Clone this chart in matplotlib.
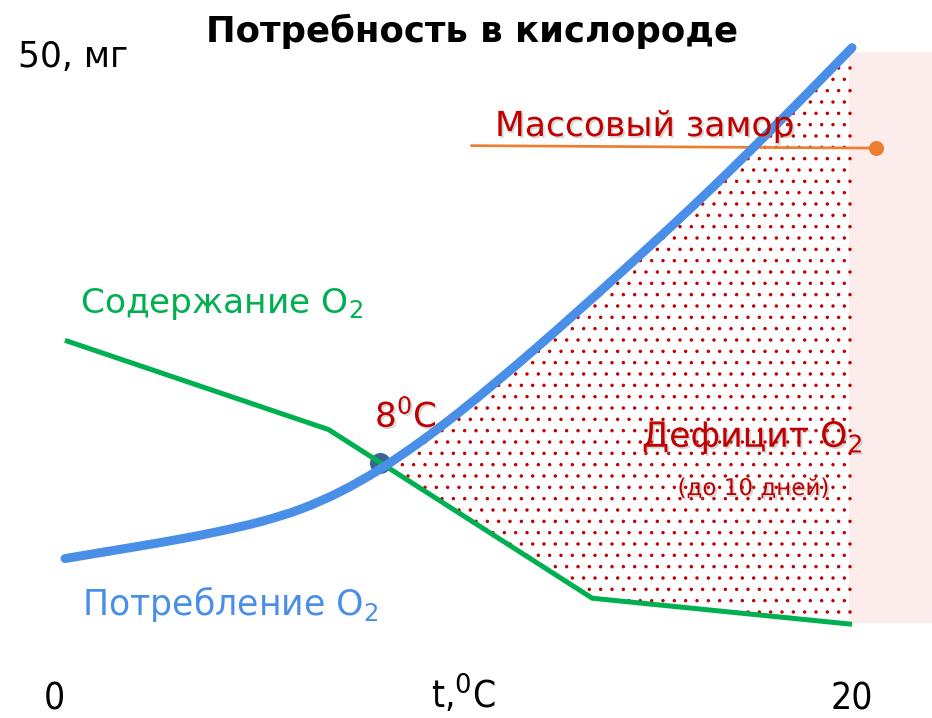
import numpy as np
import matplotlib
matplotlib.use("Agg")
import matplotlib.pyplot as plt
import matplotlib.patheffects as pe
from matplotlib.patches import Rectangle, PathPatch
from matplotlib.path import Path

# ---------------- data ----------------
temps_consumption = [0, 1, 2, 3, 4, 5, 6, 7, 8, 9, 10, 11, 12, 13, 14, 15, 16, 17, 18, 19, 20]
consumption_o2 = [10.6, 11.13, 11.66, 12.22, 12.85, 13.6, 14.6, 16.0, 17.8, 19.95, 22.35,
                  24.95, 27.65, 30.45, 33.3, 36.2, 39.15, 42.2, 45.35, 48.55, 51.8]

temps_content = [0, 6.7, 13.4, 20]
content_o2 = [28.2, 21.0, 7.4, 5.3]

crossing_temp = 8
crossing_value = 18.3

kill_line_temps = [10.3, 20.6]
kill_line_values = [43.9, 43.7]

x_ticks = [0, 20]
x_tick_labels = ["0", "20"]

# ---------------- style ----------------
DPI = 136
W, H = 932, 718
PT = 72.0 / DPI  # pixels -> points

GREEN = "#00B050"
BLUE = "#4A8FE7"
DARKRED = "#C00000"
ORANGE = "#ED7D31"
PINK = "#FDECEC"
DOT = "#3B6396"

plt.rcParams["font.family"] = ["DejaVu Sans"]
plt.rcParams["mathtext.fontset"] = "dejavusans"
plt.rcParams["hatch.linewidth"] = 0.6

fig = plt.figure(figsize=(W / DPI, H / DPI), dpi=DPI)
ax = fig.add_axes([0, 0, 1, 1])
ax.set_axis_off()

# data <-> layout scale (0 degC at px 65, 20 degC at px 852; 0 mg at py 690, 50 mg at py 70)
XPX = (852 - 65) / 20.0
YPX = (690 - 70) / 50.0
ax.set_xlim(-65 / XPX, (W - 65) / XPX)
ax.set_ylim(-(H - 690) / YPX, 690 / YPX)


def fx(px):
    return px / W


def fy(py):
    return 1 - py / H


def smooth_path(xs, ys):
    """Smoothed line through the data points (Catmull-Rom as cubic Bezier)."""
    p = np.column_stack([xs, ys]).astype(float)
    ext = np.vstack([p[0], p, p[-1]])
    verts = [p[0]]
    codes = [Path.MOVETO]
    for i in range(len(p) - 1):
        p0, p1, p2, p3 = ext[i], ext[i + 1], ext[i + 2], ext[i + 3]
        verts += [p1 + (p2 - p0) / 6.0, p2 - (p3 - p1) / 6.0, p2]
        codes += [Path.CURVE4] * 3
    return Path(verts, codes)


# pink "deficit zone" band beyond 20 degC
ax.add_patch(Rectangle((19.92, 5.43), 5.0, 51.45 - 5.43, facecolor=PINK,
                       edgecolor="none", zorder=0))

# dotted deficit area between consumption and content curves (t >= crossing)
tb = np.array(temps_consumption, dtype=float)
vb = np.array(consumption_o2, dtype=float)
tg = np.array(temps_content, dtype=float)
vg = np.array(content_o2, dtype=float)
mb = tb > crossing_temp
mg = tg > crossing_temp
poly_x = np.concatenate([[crossing_temp], tb[mb], tg[mg][::-1]])
poly_y = np.concatenate([[crossing_value], vb[mb], vg[mg][::-1]])
ax.fill(poly_x, poly_y, facecolor="none", edgecolor=DARKRED, linewidth=0,
        hatch="..", zorder=1)

# crossing point marker
ax.plot([crossing_temp], [crossing_value], "o", color=DOT, markersize=21 * PT,
        markeredgewidth=0, zorder=2)

# O2 content (green)
ax.plot(temps_content, content_o2, color=GREEN, linewidth=5 * PT,
        solid_capstyle="butt", solid_joinstyle="miter", zorder=3)

# O2 consumption (blue, smoothed line)
blue_patch = PathPatch(smooth_path(temps_consumption, consumption_o2),
                       facecolor="none", edgecolor=BLUE, linewidth=9 * PT,
                       capstyle="round", joinstyle="round", zorder=4)
ax.add_patch(blue_patch)

# mass kill threshold line (orange)
ax.plot(kill_line_temps, kill_line_values, color=ORANGE, linewidth=2.7 * PT,
        solid_capstyle="butt", zorder=3)
ax.plot([kill_line_temps[-1]], [kill_line_values[-1]], "o", color=ORANGE,
        markersize=15 * PT, markeredgewidth=0, zorder=5)

# ---------------- texts ----------------
shadow = [pe.withSimplePatchShadow(offset=(1.0, -1.0), shadow_rgbFace="#8A8A8A",
                                   alpha=0.35)]

ax.text(fx(472.5), fy(42), "Потребность в кислороде", transform=ax.transAxes,
        ha="center", va="baseline", fontsize=35.5 * PT, fontweight="bold",
        color="black", zorder=6)
ax.text(fx(18), fy(67), "50, мг", transform=ax.transAxes, ha="left",
        va="baseline", fontsize=34.6 * PT, color="black", zorder=6)

ax.text(fx(80), fy(313), "Содержание O$_2$", transform=ax.transAxes, ha="left",
        va="baseline", fontsize=34.4 * PT, color=GREEN, zorder=6)
ax.text(fx(82), fy(615), "Потребление O$_2$", transform=ax.transAxes, ha="left",
        va="baseline", fontsize=34.8 * PT, color=BLUE, zorder=6)

ax.text(fx(495), fy(136), "Массовый замор", transform=ax.transAxes, ha="left",
        va="baseline", fontsize=34.5 * PT, color=DARKRED, zorder=6,
        path_effects=shadow)
ax.text(fx(642), fy(447), "Дефицит O$_2$", transform=ax.transAxes, ha="left",
        va="baseline", fontsize=34.7 * PT, color=DARKRED, zorder=6,
        path_effects=shadow)
ax.text(fx(753.5), fy(495), "(до 10 дней)", transform=ax.transAxes, ha="center",
        va="baseline", fontsize=23 * PT, color=DARKRED, zorder=6,
        path_effects=shadow)
ax.text(fx(375), fy(427), "8$^0$C", transform=ax.transAxes, ha="left",
        va="baseline", fontsize=34 * PT, color=DARKRED, zorder=6,
        path_effects=shadow)

# axis labels at the bottom
for t, lab in zip(x_ticks, x_tick_labels):
    xp = 65 + t * XPX
    if t == 0:
        xp = 54
    ax.text(fx(xp), fy(709), lab, transform=ax.transAxes, ha="center",
            va="baseline", fontsize=37 * PT, color="black", zorder=6,
            fontstretch="condensed")
ax.text(fx(463), fy(709), "t,$^0$C", transform=ax.transAxes, ha="center",
        va="baseline", fontsize=37 * PT, color="black", zorder=6,
        fontstretch="condensed")

fig.savefig("out.png", dpi=DPI, facecolor="white")
